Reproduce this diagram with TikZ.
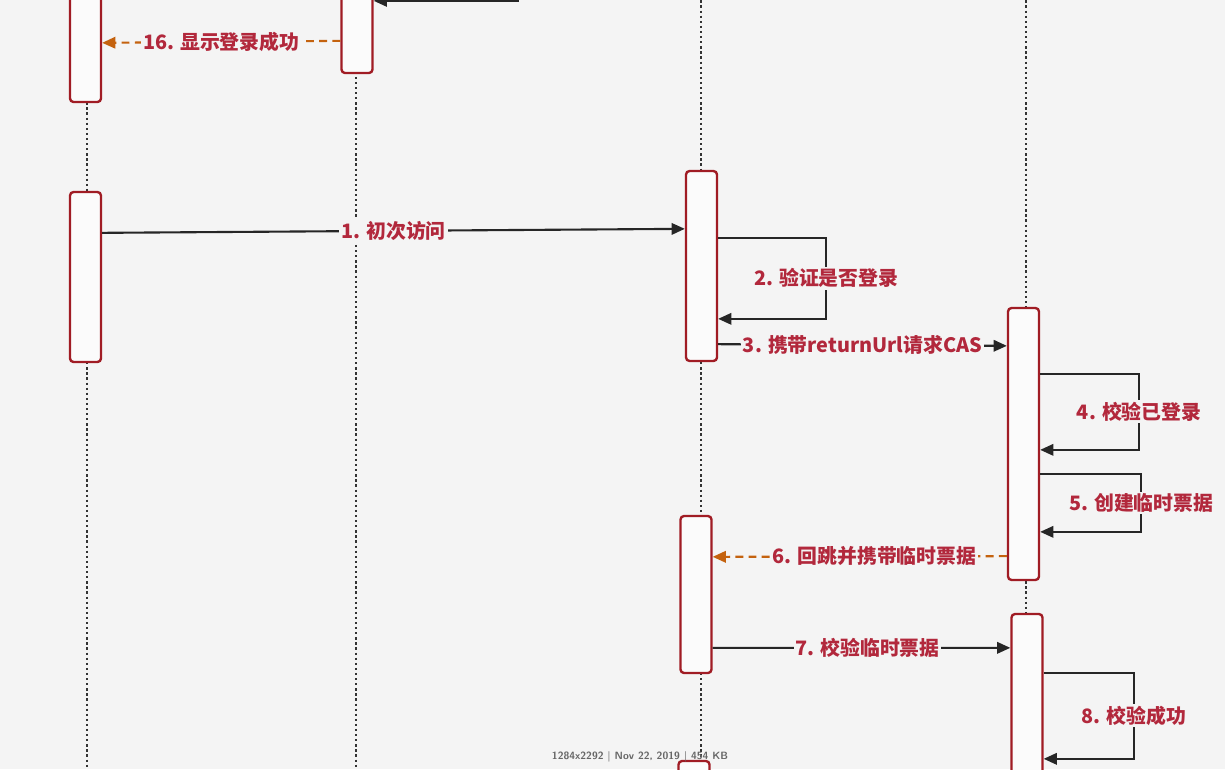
\documentclass[tikz,border=0pt]{standalone}
\usepackage{fontspec}
\usepackage{tikz}
\usetikzlibrary{arrows.meta, calc}
\newfontfamily\cjk{Noto Sans CJK SC}
\definecolor{bgc}{RGB}{244,244,244}
\definecolor{boxred}{RGB}{160,28,36}
\definecolor{lblred}{RGB}{178,40,60}
\definecolor{retorange}{RGB}{196,98,14}
\tikzset{act/.style = {draw=boxred, fill=white!60!bgc, line width=1.35pt, rounded corners=2pt, minimum width=0.62cm, inner sep=0}}
\tikzset{msg/.style = {draw=black!85, line width=1.2pt, -{Triangle[length=7.5pt, width=6.5pt]}}}
\tikzset{ret/.style = {draw=retorange, line width=1.2pt, dash pattern=on 4.5pt off 3pt, -{Triangle[length=7.5pt, width=6.5pt, fill=retorange]}}}
\tikzset{lbl/.style = {fill=bgc, inner sep=1pt, text=lblred, font=\cjk\bfseries\fontsize{11.3}{13}\selectfont}}
\tikzset{life/.style = {draw=black!80, line width=1.4pt, dash pattern=on 1.3pt off 1.6pt}}

\begin{document}
\begin{tikzpicture}[x=0.02cm, y=-0.02cm]
    \fill [bgc] (0, 0) rectangle (1225, 769);
    \useasboundingbox (0, 0) rectangle (1225, 769);
    \clip (0, 0) rectangle (1225, 769);

    % lifelines
    \foreach \lx in {87, 356, 701, 1026}
        \draw [life] (\lx, -20) -- (\lx, 800);

    % activation boxes
    \node [act, minimum height=2.24cm] (a1) at (85.5, 46) {};
    \node [act, minimum height=1.66cm] (b1) at (357, 31.5) {};
    \node [act, minimum height=3.4cm] (a2) at (85.5, 277) {};
    \node [act, minimum height=3.8cm] (c1) at (701.5, 266) {};
    \node [act, minimum height=5.44cm] (d1) at (1023.5, 444) {};
    \node [act, minimum height=3.14cm] (c2) at (696, 594.5) {};
    \node [act, minimum height=3.52cm] (d2) at (1027, 702) {};
    \node [act, minimum height=0.78cm] (c3) at (694, 780.5) {};

    % messages
    \coordinate (top) at (518, -15);
    \draw [msg] (top) |- ($(b1.north east)+(0, 12)$);
    \draw [ret] ($(b1.north west)+(0, 52)$) -- node [lbl] {16. 显示登录成功} ($(a1.north east)+(0, 54)$);

    \draw [msg] ($(a2.north east)+(0, 42)$) -- node [lbl, pos=0.5] {1. 初次访问} ($(c1.north west)+(0, 59)$);
    \draw [msg] ($(c1.north east)+(0, 68)$) -- ++(108, 0) -- node [lbl] {2. 验证是否登录} ++(0, 81) -- ++(-108, 0);
    \draw [msg] ($(c1.south east)+(0, -18)$) -- node [lbl] {3. 携带returnUrl请求CAS} ($(d1.north west)+(0, 39)$);
    \draw [msg] ($(d1.north east)+(0, 67)$) -- ++(99, 0) -- node [lbl] {4. 校验已登录} ++(0, 76) -- ++(-99, 0);
    \draw [msg] ($(d1.north east)+(0, 167)$) -- ++(101, 0) -- node [lbl] {5. 创建临时票据} ++(0, 58) -- ++(-101, 0);
    \draw [ret] ($(d1.south west)+(0, -25)$) -- node [lbl, pos=0.45] {6. 回跳并携带临时票据} ($(c2.north east)+(0, 42)$);
    \draw [msg] ($(c2.north east)+(0, 133)$) -- node [lbl, pos=0.52] {7. 校验临时票据} ($(d2.north west)+(0, 35)$);
    \draw [msg] ($(d2.north east)+(0, 60)$) -- ++(90, 0) -- node [lbl] {8. 校验成功} ++(0, 86) -- ++(-90, 0);

    \node [text=black!60, font=\sffamily\bfseries\fontsize{6}{7}\selectfont] (info) at (640, 757) {1284x2292 | Nov 22, 2019 | 454 KB};
\end{tikzpicture}
\end{document}
